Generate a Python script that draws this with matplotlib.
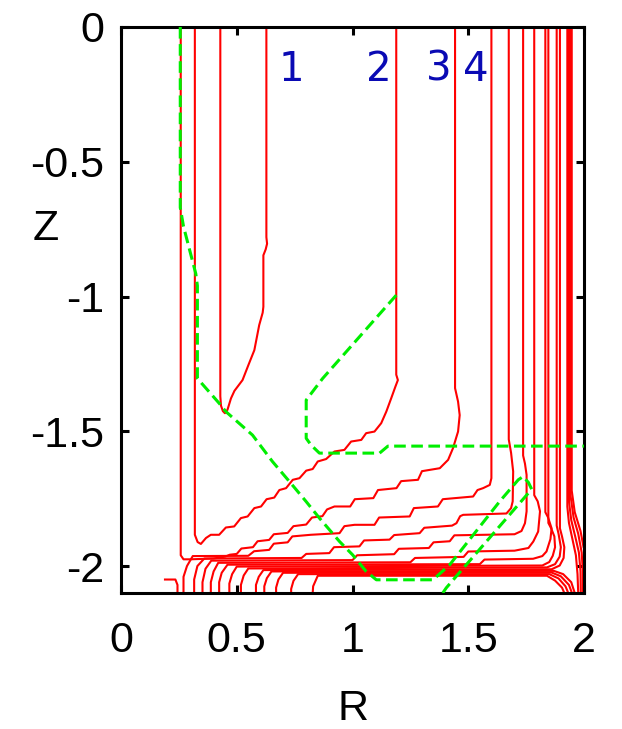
import matplotlib
matplotlib.use("Agg")
import matplotlib.pyplot as plt

plt.rcParams['axes.unicode_minus'] = False

# ---------------- data: field lines (R, Z) ----------------
line_A = [(0.429, 0.0), (0.429, -1.37), (0.432, -1.405), (0.440, -1.425), (0.449, -1.433),
          (0.460, -1.420), (0.475, -1.378), (0.490, -1.350), (0.504, -1.334), (0.525, -1.310),
          (0.550, -1.255), (0.576, -1.199), (0.597, -1.106), (0.612, -1.060), (0.615, -1.038),
          (0.615, -0.847), (0.625, -0.825), (0.631, -0.804), (0.628, -0.780), (0.628, 0.0)]

line_B = [(0.319, 0.0), (0.319, -1.884), (0.331, -1.911), (0.345, -1.918), (0.367, -1.896),
          (0.388, -1.884), (0.424, -1.884), (0.453, -1.857), (0.489, -1.853), (0.518, -1.822),
          (0.547, -1.816), (0.576, -1.785), (0.605, -1.779), (0.629, -1.752), (0.662, -1.746),
          (0.684, -1.718), (0.713, -1.711), (0.742, -1.680), (0.771, -1.674), (0.800, -1.646),
          (0.828, -1.640), (0.850, -1.612), (0.886, -1.603), (0.922, -1.575), (0.965, -1.569),
          (0.994, -1.538), (1.038, -1.532), (1.059, -1.507), (1.095, -1.501), (1.124, -1.470),
          (1.146, -1.427), (1.167, -1.378), (1.185, -1.335), (1.196, -1.310), (1.189, -1.290),
          (1.189, 0.0)]

line_C = [(0.258, 0.0), (0.258, -1.960), (0.270, -1.975), (0.300, -1.975), (0.400, -1.972),
          (0.450, -1.965), (0.470, -1.958), (0.500, -1.955), (0.520, -1.935), (0.570, -1.930),
          (0.590, -1.908), (0.640, -1.903), (0.660, -1.882), (0.720, -1.877), (0.745, -1.852),
          (0.800, -1.846), (0.825, -1.820), (0.870, -1.815), (0.890, -1.790), (0.922, -1.779),
          (0.990, -1.779), (1.010, -1.752), (1.090, -1.748), (1.110, -1.718), (1.190, -1.711),
          (1.210, -1.685), (1.283, -1.680), (1.300, -1.648), (1.377, -1.637), (1.413, -1.606),
          (1.434, -1.563), (1.456, -1.501), (1.463, -1.440), (1.456, -1.390), (1.443, -1.340),
          (1.443, 0.0)]

line_D = [(0.270, -2.1), (0.270, -2.040), (0.285, -2.000), (0.310, -1.963), (0.550, -1.962),
          (0.575, -1.945), (0.640, -1.940), (0.660, -1.917), (0.720, -1.912), (0.740, -1.890),
          (0.820, -1.884), (0.944, -1.878), (0.965, -1.852), (1.009, -1.847), (1.095, -1.847),
          (1.115, -1.820), (1.247, -1.816), (1.265, -1.785), (1.369, -1.779), (1.390, -1.752),
          (1.521, -1.742), (1.540, -1.718), (1.564, -1.711), (1.593, -1.699), (1.600, -1.674),
          (1.600, 0.0)]

line_E = [(0.316, -2.1), (0.316, -2.050), (0.330, -2.000), (0.360, -1.972), (0.780, -1.970),
          (0.800, -1.955), (0.900, -1.952), (0.920, -1.930), (1.030, -1.927), (1.050, -1.905),
          (1.160, -1.902), (1.180, -1.885), (1.290, -1.878), (1.310, -1.858), (1.430, -1.850),
          (1.449, -1.841), (1.465, -1.815), (1.478, -1.810), (1.665, -1.805), (1.685, -1.785),
          (1.692, -1.760), (1.694, -1.649), (1.685, -1.580), (1.675, -1.530), (1.675, 0.0)]

line_F = [(0.352, -2.1), (0.352, -2.060), (0.365, -2.010), (0.390, -1.980), (1.000, -1.978),
          (1.020, -1.960), (1.180, -1.956), (1.200, -1.936), (1.330, -1.933), (1.350, -1.912),
          (1.420, -1.908), (1.440, -1.886), (1.700, -1.882), (1.730, -1.870), (1.745, -1.841),
          (1.752, -1.797), (1.752, -1.662), (1.745, -1.620), (1.737, -1.590), (1.737, 0.0)]

line_G = [(0.388, -2.1), (0.388, -2.060), (0.400, -2.020), (0.420, -1.988), (1.250, -1.986),
          (1.270, -1.970), (1.480, -1.966), (1.500, -1.946), (1.700, -1.943), (1.760, -1.933),
          (1.781, -1.909), (1.802, -1.872), (1.810, -1.797), (1.800, -1.760), (1.785, -1.737),
          (1.785, 0.0)]

line_H = [(0.424, -2.1), (0.424, -2.060), (0.435, -2.025), (0.460, -1.995), (1.550, -1.993),
          (1.570, -1.976), (1.780, -1.973), (1.820, -1.963), (1.838, -1.946), (1.855, -1.900),
          (1.860, -1.860), (1.845, -1.820), (1.833, -1.800), (1.833, 0.0)]

line_I = [(0.468, -2.1), (0.468, -2.065), (0.480, -2.030), (0.500, -2.002), (1.820, -1.998),
          (1.850, -1.985), (1.865, -1.962), (1.875, -1.930), (1.872, -1.890), (1.858, -1.860),
          (1.846, -1.840), (1.846, 0.0)]

line_J = [(0.518, -2.1), (0.518, -2.070), (0.530, -2.035), (0.550, -2.009), (1.840, -2.005),
          (1.875, -1.993), (1.895, -1.965), (1.900, -1.930), (1.890, -1.880), (1.882, -1.850),
          (1.882, 0.0)]

line_K = [(0.583, -2.1), (0.583, -2.070), (0.595, -2.040), (0.615, -2.015), (1.860, -2.012),
          (1.895, -1.998), (1.912, -1.970), (1.915, -1.930), (1.905, -1.890), (1.896, -1.860),
          (1.896, 0.0)]

line_X1 = [(0.619, -2.1), (0.619, -2.075), (0.630, -2.045), (0.650, -2.020), (1.870, -2.018),
           (1.910, -2.030), (1.945, -2.060), (1.960, -2.1)]
line_X2 = [(0.670, -2.1), (0.670, -2.080), (0.680, -2.050), (0.700, -2.025), (1.860, -2.024),
           (1.900, -2.038), (1.935, -2.070), (1.948, -2.1)]
line_X3 = [(0.735, -2.1), (0.735, -2.085), (0.745, -2.055), (0.765, -2.030), (1.850, -2.030),
           (1.890, -2.046), (1.920, -2.075), (1.932, -2.1)]
line_X4 = [(0.828, -2.1), (0.830, -2.075), (0.850, -2.036), (1.840, -2.036), (1.875, -2.054),
           (1.905, -2.080), (1.915, -2.1)]

line_L0 = [(0.244, -2.1), (0.244, -2.070), (0.235, -2.050), (0.190, -2.050)]

line_T1 = [(1.928, 0.0), (1.928, -1.780), (1.935, -1.840), (1.950, -1.900), (1.965, -1.960),
           (1.972, -2.030), (1.975, -2.1)]
line_T2 = [(1.935, 0.0), (1.935, -1.760), (1.945, -1.830), (1.962, -1.890), (1.978, -1.950),
           (1.985, -2.020), (1.986, -2.1)]
line_T3 = [(1.942, 0.0), (1.942, -1.740), (1.955, -1.820), (1.975, -1.880), (1.990, -1.950),
           (1.995, -2.020), (1.995, -2.1)]
line_T4 = [(1.947, 0.0), (1.947, -1.720), (1.960, -1.800), (1.985, -1.870), (1.998, -1.930)]

red_lines = [line_A, line_B, line_C, line_D, line_E, line_F, line_G, line_H, line_I, line_J,
             line_K, line_X1, line_X2, line_X3, line_X4, line_L0,
             line_T1, line_T2, line_T3, line_T4]

# green dashed boundaries
wall_1 = [(0.256, 0.0), (0.256, -0.670), (0.270, -0.740), (0.323, -0.915), (0.330, -0.960),
          (0.330, -1.304), (0.424, -1.396), (0.453, -1.427), (0.568, -1.514), (0.654, -1.612),
          (0.727, -1.686), (0.800, -1.761), (0.857, -1.822), (0.944, -1.909), (1.000, -1.958),
          (1.059, -2.020), (1.103, -2.051), (1.348, -2.051), (1.420, -1.995), (1.636, -1.760),
          (1.716, -1.680), (1.737, -1.668), (1.760, -1.690), (1.774, -1.715), (1.405, -2.081),
          (1.390, -2.1)]
wall_2 = [(1.189, -0.995), (0.871, -1.304), (0.800, -1.384), (0.800, -1.526), (0.821, -1.551),
          (0.857, -1.581), (1.117, -1.581), (1.153, -1.555), (2.000, -1.555)]
walls = [wall_1, wall_2]

label_text = ["1", "2", "3", "4"]
label_R = [0.735, 1.114, 1.374, 1.534]
label_Z = [-0.158, -0.158, -0.158, -0.158]

x_ticks = [0, 0.5, 1, 1.5, 2]
x_ticklabels = ["0", "0.5", "1", "1.5", "2"]
y_ticks = [0, -0.5, -1, -1.5, -2]
y_ticklabels = ["0", "-0.5", "-1", "-1.5", "-2"]

# ---------------- figure ----------------
W, H = 622, 729
fig = plt.figure(figsize=(W / 100, H / 100), dpi=100)
left, right, top, bottom = 121, 584, 27, 593
ax = fig.add_axes([left / W, 1 - bottom / H, (right - left) / W, (bottom - top) / H])

for ln in red_lines:
    rr = [p[0] for p in ln]
    zz = [p[1] for p in ln]
    ax.plot(rr, zz, color='#ff0000', lw=1.5, solid_joinstyle='round', zorder=2)

for w in walls:
    rr = [p[0] for p in w]
    zz = [p[1] for p in w]
    ax.plot(rr, zz, color='#00ee00', lw=2.2, dashes=(3.8, 1.8), zorder=3)

for t, r, z in zip(label_text, label_R, label_Z):
    ax.text(r, z, t, color='#0a0ab4', fontsize=29, family='DejaVu Sans',
            ha='center', va='center', zorder=4)

ax.set_xlim(0, 2)
ax.set_ylim(-2.1, 0)
ax.set_xticks(x_ticks)
ax.set_xticklabels(x_ticklabels)
ax.set_yticks(y_ticks)
ax.set_yticklabels(y_ticklabels)

tick_font = 'Liberation Sans'
for lab in ax.get_xticklabels() + ax.get_yticklabels():
    lab.set_family(tick_font)
    lab.set_fontsize(31)

ax.tick_params(direction='in', length=6, width=2.2, top=True, right=True, color='black')
ax.tick_params(axis='x', pad=20)
ax.tick_params(axis='y', pad=12)
for s in ax.spines.values():
    s.set_linewidth(2.2)

fig.text(46 / W, 1 - 229 / H, "Z", fontsize=31, family=tick_font, ha='center', va='center')
fig.text(353 / W, 1 - 709 / H, "R", fontsize=31, family=tick_font, ha='center', va='center')

fig.savefig("out.png", dpi=100)
